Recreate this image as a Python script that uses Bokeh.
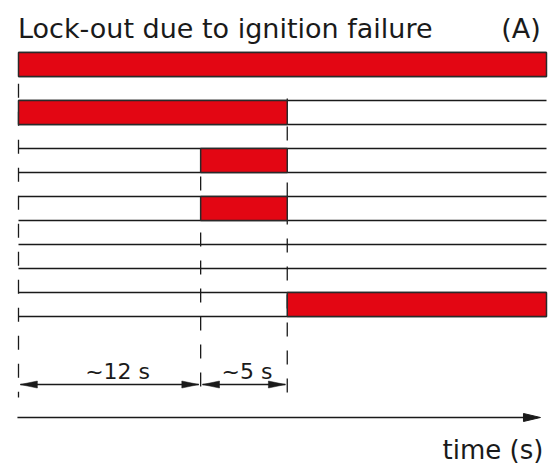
from bokeh.plotting import figure
from bokeh.models import ColumnDataSource
from bokeh.core.properties import value
from bokeh.embed import file_html
from bokeh.resources import INLINE

# ---- data (schematic time axis, 0..100 = diagram width) ----
title_text = "Lock-out due to ignition failure"
panel_tag = "(A)"
axis_label = "time (s)"

phase_x = [0.0, 34.5, 50.9, 100.0]          # start, ~12 s, ~17 s, end of diagram
n_rows = 6                                  # signal rows
bar_row = [0, 1, 2, 3, 5]                   # rows that have an "on" interval
bar_start = [0.0, 0.0, 34.5, 34.5, 50.9]
bar_end = [100.0, 50.9, 50.9, 50.9, 100.0]

guide_x = [0.0, 34.5, 50.9]                 # dashed event markers
guide_top = [-0.40, -1.75, -0.71]
guide_bottom = [-6.94, -7.00, -6.85]

dim_start = [0.0, 34.5]
dim_end = [34.5, 50.9]
dim_label = ["~12 s", "~5 s"]

# ---- styling constants ----
RED = "#E30613"
INK = "#1a1a1a"
ROW_H = 0.5
FONT = "DejaVu Sans"
PX_X = 5.28      # pixels per x unit
PX_Y = 48.0      # pixels per y unit

p = figure(width=559, height=464, x_range=(-3.409, 102.462), y_range=(-8.3333, 1.3333),
           output_backend="svg", toolbar_location=None, min_border=0)
p.axis.visible = False
p.grid.visible = False
p.outline_line_color = None
p.background_fill_color = "white"
p.border_fill_color = "white"

# rails (top and bottom line of each row)
rail_y = []
for k in range(n_rows):
    rail_y += [-k + ROW_H / 2, -k - ROW_H / 2]
p.segment(x0=[phase_x[0]] * len(rail_y), x1=[phase_x[-1]] * len(rail_y),
          y0=rail_y, y1=rail_y, line_color=INK, line_width=1.6)

# dashed event markers
p.segment(x0=guide_x, x1=guide_x, y0=guide_top, y1=guide_bottom,
          line_color=INK, line_width=1.3, line_dash="14 14")

# red "on" bars
bars = ColumnDataSource(dict(
    left=bar_start, right=bar_end,
    top=[-r + ROW_H / 2 for r in bar_row], bottom=[-r - ROW_H / 2 for r in bar_row]))
p.quad(left="left", right="right", top="top", bottom="bottom", source=bars,
       fill_color=RED, line_color="#2a2a2a", line_width=1.5)

# dimension arrows
dim_y = -6.667
inset = 0.35
hl, hw = 17 / PX_X, 3.5 / PX_Y
p.segment(x0=[a + inset for a in dim_start], x1=[b - inset for b in dim_end],
          y0=[dim_y] * 2, y1=[dim_y] * 2, line_color=INK, line_width=1.3)
xs, ys = [], []
for a, b in zip(dim_start, dim_end):
    ta, tb = a + inset, b - inset
    xs.append([ta, ta + hl, ta + hl]); ys.append([dim_y, dim_y + hw, dim_y - hw])
    xs.append([tb, tb - hl, tb - hl]); ys.append([dim_y, dim_y + hw, dim_y - hw])
p.patches(xs=xs, ys=ys, fill_color=INK, line_color=INK, line_width=0.5)

p.text(x=[(a + b) / 2 for a, b in zip(dim_start, dim_end)], y=[-6.40] * 2, text=dim_label,
       text_font=value(FONT), text_font_size="22px", text_color=INK,
       text_align="center", text_baseline="alphabetic", x_offset=[8, 3])

# time axis arrow
ax_y = -7.354
ax_end = 98.86
p.segment(x0=[-0.2], x1=[ax_end - 15 / PX_X], y0=[ax_y], y1=[ax_y], line_color=INK, line_width=1.6)
p.patches(xs=[[ax_end, ax_end - 17 / PX_X, ax_end - 17 / PX_X]],
          ys=[[ax_y, ax_y + 4 / PX_Y, ax_y - 4 / PX_Y]], fill_color=INK, line_color=INK)
p.text(x=[99.4], y=[-8.04], text=[axis_label], text_font=value(FONT), text_font_size="26px",
       text_color=INK, text_align="right", text_baseline="alphabetic")

# title and panel tag
p.text(x=[-0.1], y=[0.74], text=[title_text], text_font=value(FONT), text_font_size="27px",
       text_color=INK, text_align="left", text_baseline="alphabetic")
p.text(x=[98.9], y=[0.74], text=[panel_tag], text_font=value(FONT), text_font_size="27px",
       text_color=INK, text_align="right", text_baseline="alphabetic")

open("out.html", "w").write(file_html(p, INLINE))
